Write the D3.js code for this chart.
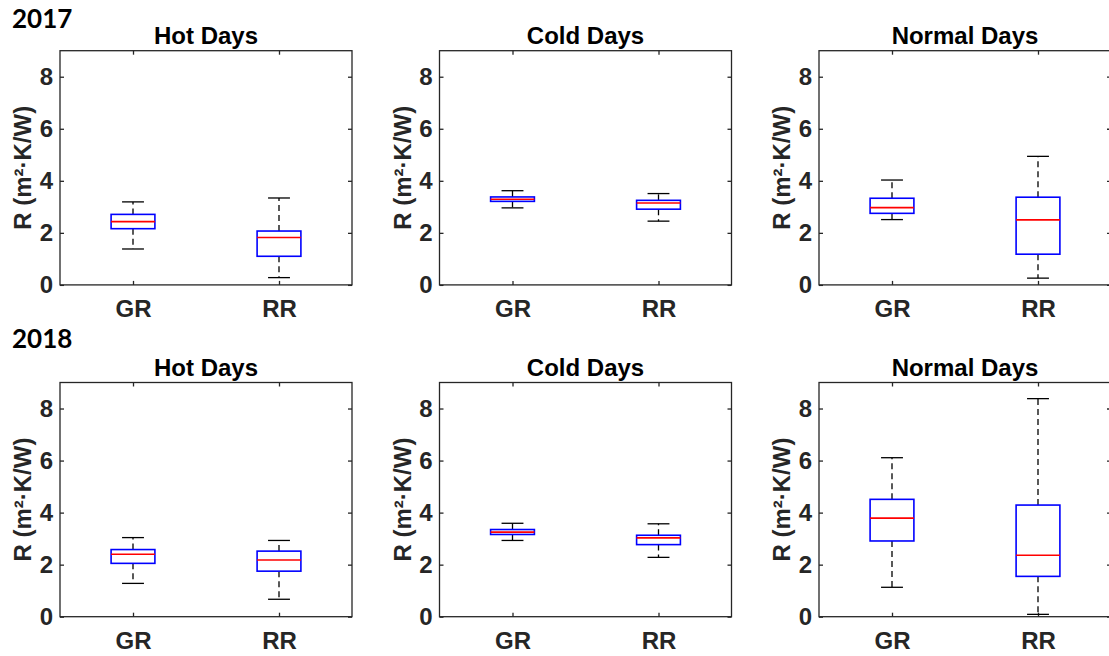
<!DOCTYPE html>
<html>
<head>
<meta charset="utf-8">
<script src="https://cdn.jsdelivr.net/npm/d3@7"></script>
<style>
  html, body { margin: 0; padding: 0; background: #fff; }
  svg { display: block; }
</style>
</head>
<body>
<svg id="chart" width="1109" height="656"></svg>
<script>
// Thermal resistance R (m²·K/W) of green roof (GR) and reference roof (RR)
// Each summary: [lower whisker, Q1, median, Q3, upper whisker]
const years = ["2017", "2018"];
const dayTypes = ["Hot Days", "Cold Days", "Normal Days"];
const roofs = ["GR", "RR"];
const yTicks = [0, 2, 4, 6, 8];

const hot2017GR = [1.38, 2.16, 2.43, 2.71, 3.19];
const hot2017RR = [0.28, 1.10, 1.82, 2.07, 3.34];
const cold2017GR = [2.96, 3.21, 3.29, 3.38, 3.62];
const cold2017RR = [2.45, 2.91, 3.15, 3.25, 3.51];
const normal2017GR = [2.51, 2.75, 2.97, 3.33, 4.03];
const normal2017RR = [0.26, 1.18, 2.50, 3.37, 4.94];

const hot2018GR = [1.28, 2.05, 2.40, 2.58, 3.04];
const hot2018RR = [0.67, 1.75, 2.18, 2.52, 2.93];
const cold2018GR = [2.93, 3.16, 3.25, 3.35, 3.59];
const cold2018RR = [2.28, 2.77, 3.03, 3.13, 3.57];
const normal2018GR = [1.13, 2.91, 3.79, 4.51, 6.11];
const normal2018RR = [0.09, 1.55, 2.36, 4.29, 8.38];

const panels = [
  [[hot2017GR, hot2017RR], [cold2017GR, cold2017RR], [normal2017GR, normal2017RR]],
  [[hot2018GR, hot2018RR], [cold2018GR, cold2018RR], [normal2018GR, normal2018RR]]
];

const svg = d3.select("#chart");
const FONT = "'Liberation Sans', Arial, Helvetica, sans-serif";
const AXIS_COLOR = "#262626";

const colLeft = [60, 439.5, 819];
const plotW = 292;
const rowTop = [50.7, 382.5];
const plotH = 234.2;

years.forEach((year, r) => {
  svg.append("text")
    .attr("x", 12)
    .attr("y", r === 0 ? 28 : 348)
    .attr("font-family", "Lato, 'Open Sans', sans-serif")
    .attr("font-weight", 700)
    .attr("font-size", 26)
    .attr("fill", "#000")
    .text(year);

  dayTypes.forEach((title, c) => {
    const left = colLeft[c], top = rowTop[r];
    const x = d3.scalePoint().domain(roofs).range([left, left + plotW]).padding(0.5);
    const y = d3.scaleLinear().domain([0, 9]).range([top + plotH, top]);
    const step = x.step();
    const boxW = 0.3 * step;
    const capW = 0.15 * step;

    const g = svg.append("g");

    // frame
    g.append("rect")
      .attr("x", left).attr("y", top)
      .attr("width", plotW).attr("height", plotH)
      .attr("fill", "none")
      .attr("stroke", AXIS_COLOR)
      .attr("stroke-width", 1.3);

    const styleAxis = sel => {
      sel.select(".domain").remove();
      sel.selectAll(".tick line").attr("stroke", AXIS_COLOR).attr("stroke-width", 1.3);
      sel.selectAll(".tick text")
        .attr("fill", AXIS_COLOR)
        .attr("font-family", FONT)
        .attr("font-weight", "bold")
        .attr("font-size", 24);
    };

    g.append("g").attr("transform", `translate(${left},0)`)
      .call(d3.axisLeft(y).tickValues(yTicks).tickSize(-4).tickSizeOuter(0).tickPadding(7))
      .call(styleAxis);
    g.append("g").attr("transform", `translate(${left + plotW},0)`)
      .call(d3.axisRight(y).tickValues(yTicks).tickSize(-4).tickSizeOuter(0).tickFormat(""))
      .call(styleAxis);
    g.append("g").attr("transform", `translate(0,${top + plotH})`)
      .call(d3.axisBottom(x).tickSize(-4).tickSizeOuter(0).tickPadding(15))
      .call(styleAxis);
    g.append("g").attr("transform", `translate(0,${top})`)
      .call(d3.axisTop(x).tickSize(-4).tickSizeOuter(0).tickFormat(""))
      .call(styleAxis);

    // title
    g.append("text")
      .attr("x", left + plotW / 2)
      .attr("y", top - 6.5)
      .attr("text-anchor", "middle")
      .attr("font-family", FONT)
      .attr("font-weight", "bold")
      .attr("font-size", 24)
      .attr("fill", "#000")
      .text(title);

    // y label
    g.append("text")
      .attr("transform", `translate(${left - 29},${top + plotH / 2}) rotate(-90)`)
      .attr("text-anchor", "middle")
      .attr("font-family", FONT)
      .attr("font-weight", "bold")
      .attr("font-size", 24)
      .attr("fill", AXIS_COLOR)
      .text("R (m²·K/W)");

    // boxes
    const data = panels[r][c];
    roofs.forEach((roof, i) => {
      const [lo, q1, med, q3, hi] = data[i];
      const cx = x(roof);
      const bg = g.append("g");
      // whiskers
      bg.append("line")
        .attr("x1", cx).attr("x2", cx).attr("y1", y(q3)).attr("y2", y(hi))
        .attr("stroke", "#000").attr("stroke-width", 1.3).attr("stroke-dasharray", "6,4");
      bg.append("line")
        .attr("x1", cx).attr("x2", cx).attr("y1", y(q1)).attr("y2", y(lo))
        .attr("stroke", "#000").attr("stroke-width", 1.3).attr("stroke-dasharray", "6,4");
      // caps
      [lo, hi].forEach(v => {
        bg.append("line")
          .attr("x1", cx - capW / 2).attr("x2", cx + capW / 2)
          .attr("y1", y(v)).attr("y2", y(v))
          .attr("stroke", "#000").attr("stroke-width", 1.3);
      });
      // box
      bg.append("rect")
        .attr("x", cx - boxW / 2).attr("y", y(q3))
        .attr("width", boxW).attr("height", y(q1) - y(q3))
        .attr("fill", "none").attr("stroke", "#0000ff").attr("stroke-width", 1.6);
      // median
      bg.append("line")
        .attr("x1", cx - boxW / 2).attr("x2", cx + boxW / 2)
        .attr("y1", y(med)).attr("y2", y(med))
        .attr("stroke", "#ff0000").attr("stroke-width", 1.6);
    });
  });
});
</script>
</body>
</html>
